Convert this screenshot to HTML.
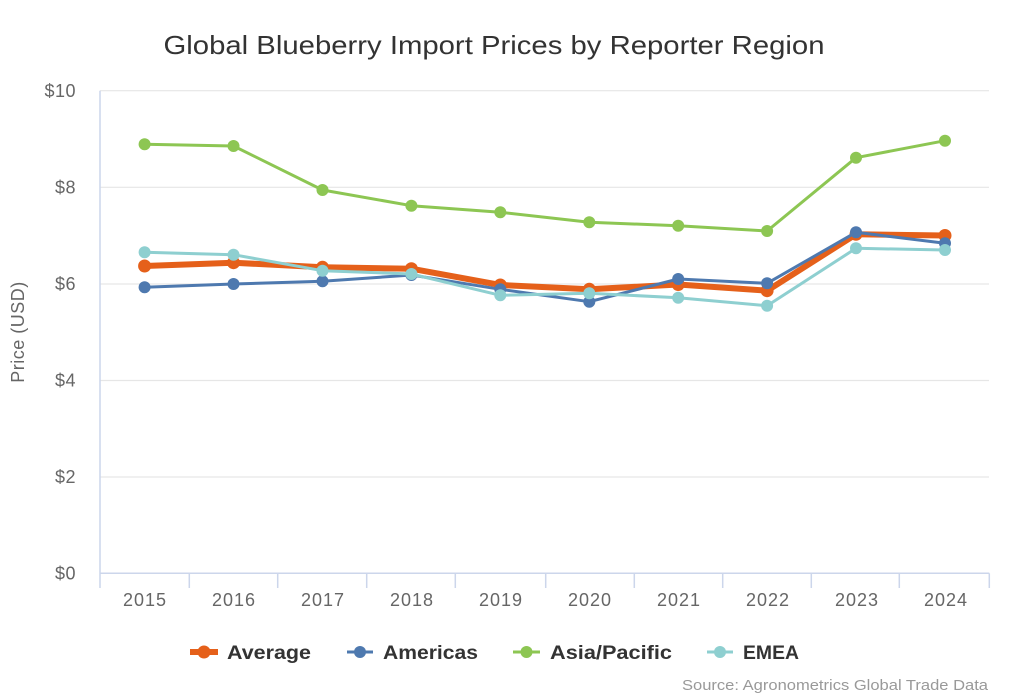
<!DOCTYPE html>
<html>
<head>
<meta charset="utf-8">
<style>
html,body{margin:0;padding:0;background:#fff;}
svg{display:block;}
text{font-family:"Liberation Sans","DejaVu Sans",sans-serif;}
</style>
</head>
<body>
<svg width="1024" height="700" viewBox="0 0 1024 700" xmlns="http://www.w3.org/2000/svg">
<rect width="1024" height="700" fill="#fff"/>
<!-- Title -->
<text x="494" y="54" text-anchor="middle" font-size="26" fill="#333" textLength="661" lengthAdjust="spacingAndGlyphs">Global Blueberry Import Prices by Reporter Region</text>

<!-- gridlines -->
<g stroke="#e6e6e6" stroke-width="1.2">
<line x1="100" y1="90.7" x2="989" y2="90.7"/>
<line x1="100" y1="187.3" x2="989" y2="187.3"/>
<line x1="100" y1="284" x2="989" y2="284"/>
<line x1="100" y1="380.5" x2="989" y2="380.5"/>
<line x1="100" y1="477" x2="989" y2="477"/>
</g>
<!-- axes -->
<g stroke="#ccd6eb" stroke-width="1.5">
<line x1="100" y1="90.7" x2="100" y2="588"/>
<line x1="100" y1="573.3" x2="989.3" y2="573.3"/>
<line x1="189.3" y1="573.3" x2="189.3" y2="588"/>
<line x1="277.7" y1="573.3" x2="277.7" y2="588"/>
<line x1="366.7" y1="573.3" x2="366.7" y2="588"/>
<line x1="455.3" y1="573.3" x2="455.3" y2="588"/>
<line x1="545.7" y1="573.3" x2="545.7" y2="588"/>
<line x1="634.3" y1="573.3" x2="634.3" y2="588"/>
<line x1="722.7" y1="573.3" x2="722.7" y2="588"/>
<line x1="811.3" y1="573.3" x2="811.3" y2="588"/>
<line x1="899.3" y1="573.3" x2="899.3" y2="588"/>
<line x1="989.3" y1="573.3" x2="989.3" y2="588"/>
</g>

<!-- y labels -->
<g font-size="18" fill="#666" text-anchor="end" letter-spacing="0.5">
<text x="76" y="97">$10</text>
<text x="76" y="193.5">$8</text>
<text x="76" y="290">$6</text>
<text x="76" y="386.5">$4</text>
<text x="76" y="483">$2</text>
<text x="76" y="579.5">$0</text>
</g>
<text transform="translate(24,332) rotate(-90)" text-anchor="middle" font-size="18" fill="#666" letter-spacing="0.5">Price (USD)</text>

<!-- x labels -->
<g font-size="18" fill="#666" text-anchor="middle" letter-spacing="1">
<text x="145" y="606">2015</text>
<text x="234" y="606">2016</text>
<text x="323" y="606">2017</text>
<text x="412" y="606">2018</text>
<text x="501" y="606">2019</text>
<text x="590" y="606">2020</text>
<text x="679" y="606">2021</text>
<text x="768" y="606">2022</text>
<text x="857" y="606">2023</text>
<text x="946" y="606">2024</text>
</g>

<!-- Average -->
<g fill="#e5601a">
<polyline fill="none" stroke="#e5601a" stroke-width="6" stroke-linejoin="round" points="144.6,266 233.5,262.7 322.5,267.3 411.4,268.7 500.3,285 589.3,289.3 678.2,284.5 767.1,290.7 856,234.3 945,235.5"/>
<circle cx="144.6" cy="266" r="6.5"/><circle cx="233.5" cy="262.7" r="6.5"/><circle cx="322.5" cy="267.3" r="6.5"/><circle cx="411.4" cy="268.7" r="6.5"/><circle cx="500.3" cy="285" r="6.5"/><circle cx="589.3" cy="289.3" r="6.5"/><circle cx="678.2" cy="284.5" r="6.5"/><circle cx="767.1" cy="290.7" r="6.5"/><circle cx="856" cy="234.3" r="6.5"/><circle cx="945" cy="235.5" r="6.5"/>
</g>
<!-- Americas -->
<g fill="#4e79af">
<polyline fill="none" stroke="#4e79af" stroke-width="3" stroke-linejoin="round" points="144.6,287.3 233.5,284 322.5,281.3 411.4,275 500.3,289.3 589.3,301.7 678.2,279 767.1,283.3 856,232.3 945,243.3"/>
<circle cx="144.6" cy="287.3" r="6"/><circle cx="233.5" cy="284" r="6"/><circle cx="322.5" cy="281.3" r="6"/><circle cx="411.4" cy="275" r="6"/><circle cx="500.3" cy="289.3" r="6"/><circle cx="589.3" cy="301.7" r="6"/><circle cx="678.2" cy="279" r="6"/><circle cx="767.1" cy="283.3" r="6"/><circle cx="856" cy="232.3" r="6"/><circle cx="945" cy="243.3" r="6"/>
</g>
<!-- Asia/Pacific -->
<g fill="#8dc653">
<polyline fill="none" stroke="#8dc653" stroke-width="3" stroke-linejoin="round" points="144.6,144.3 233.5,146 322.5,190 411.4,205.7 500.3,212.3 589.3,222.3 678.2,225.7 767.1,231 856,157.7 945,140.7"/>
<circle cx="144.6" cy="144.3" r="6"/><circle cx="233.5" cy="146" r="6"/><circle cx="322.5" cy="190" r="6"/><circle cx="411.4" cy="205.7" r="6"/><circle cx="500.3" cy="212.3" r="6"/><circle cx="589.3" cy="222.3" r="6"/><circle cx="678.2" cy="225.7" r="6"/><circle cx="767.1" cy="231" r="6"/><circle cx="856" cy="157.7" r="6"/><circle cx="945" cy="140.7" r="6"/>
</g>
<!-- EMEA -->
<g fill="#8ecfd0">
<polyline fill="none" stroke="#8ecfd0" stroke-width="3" stroke-linejoin="round" points="144.6,252.3 233.5,254.7 322.5,270.7 411.4,274 500.3,295.3 589.3,293.3 678.2,297.7 767.1,305.7 856,248.3 945,250"/>
<circle cx="144.6" cy="252.3" r="6"/><circle cx="233.5" cy="254.7" r="6"/><circle cx="322.5" cy="270.7" r="6"/><circle cx="411.4" cy="274" r="6"/><circle cx="500.3" cy="295.3" r="6"/><circle cx="589.3" cy="293.3" r="6"/><circle cx="678.2" cy="297.7" r="6"/><circle cx="767.1" cy="305.7" r="6"/><circle cx="856" cy="248.3" r="6"/><circle cx="945" cy="250" r="6"/>
</g>

<!-- Legend -->
<g font-size="19" font-weight="bold" fill="#333">
<line x1="190" y1="652" x2="218" y2="652" stroke="#e5601a" stroke-width="6"/>
<circle cx="204" cy="652" r="6.5" fill="#e5601a"/>
<text x="227" y="659" textLength="84" lengthAdjust="spacingAndGlyphs">Average</text>
<line x1="347" y1="652" x2="373" y2="652" stroke="#4e79af" stroke-width="3"/>
<circle cx="360" cy="652" r="6" fill="#4e79af"/>
<text x="383" y="659" textLength="95" lengthAdjust="spacingAndGlyphs">Americas</text>
<line x1="513" y1="652" x2="540" y2="652" stroke="#8dc653" stroke-width="3"/>
<circle cx="526.5" cy="652" r="6" fill="#8dc653"/>
<text x="550" y="659" textLength="122" lengthAdjust="spacingAndGlyphs">Asia/Pacific</text>
<line x1="707" y1="652" x2="733" y2="652" stroke="#8ecfd0" stroke-width="3"/>
<circle cx="720" cy="652" r="6" fill="#8ecfd0"/>
<text x="743" y="659" textLength="56" lengthAdjust="spacingAndGlyphs">EMEA</text>
</g>

<!-- Source -->
<text x="988" y="690" text-anchor="end" font-size="15" fill="#999" textLength="306" lengthAdjust="spacingAndGlyphs">Source: Agronometrics Global Trade Data</text>
</svg>
</body>
</html>
